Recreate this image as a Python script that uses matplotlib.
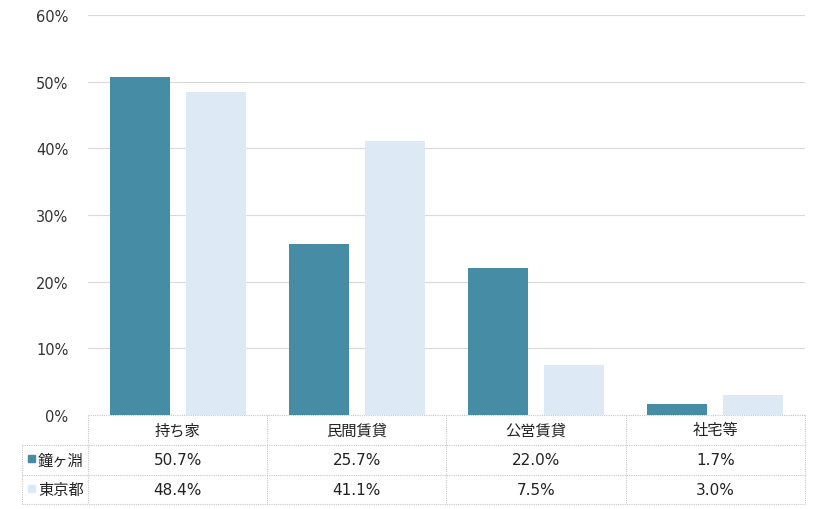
import matplotlib.pyplot as plt
from matplotlib.patches import Rectangle

plt.rcParams['font.family'] = ['DejaVu Sans', 'Noto Sans CJK JP']

categories = ['持ち家', '民間賃貸', '公営賃貸', '社宅等']
series_names = ['鐘ヶ淵', '東京都']
kanegafuchi = [50.7, 25.7, 22.0, 1.7]
tokyo = [48.4, 41.1, 7.5, 3.0]
colors = ['#468CA4', '#DDE9F5']

W, H = 820, 510
fig = plt.figure(figsize=(W / 100, H / 100), dpi=100)

# plot area in pixels
left, right, top, bottom = 88, 805, 16, 416
ax = fig.add_axes([left / W, 1 - bottom / H, (right - left) / W, (bottom - top) / H])

x = range(len(categories))
bw = 0.335
off = 0.212
ax.bar([i - off for i in x], kanegafuchi, width=bw, color=colors[0], zorder=3)
ax.bar([i + off for i in x], tokyo, width=bw, color=colors[1], zorder=3)

ax.set_xlim(-0.5, len(categories) - 0.5)
ax.set_ylim(0, 60)
ax.set_yticks(range(0, 61, 10))
ax.set_yticklabels([f'{v}%' for v in range(0, 61, 10)], fontsize=10.5, color='#333333')
ax.set_xticks([])
ax.grid(axis='y', color='#D9D9D9', linewidth=0.8, zorder=0)
for s in ax.spines.values():
    s.set_visible(False)
ax.tick_params(axis='y', length=0, pad=14)

# data table underneath, in pixel coords
tab = fig.add_axes([0, 0, 1, 1], zorder=-1)
tab.set_xlim(0, W)
tab.set_ylim(H, 0)
tab.axis('off')

row_y = [416, 446, 476, 505]
col_x = [left + (right - left) * i / 4 for i in range(5)]
lab_x = 22
line_kw = dict(color='#C8C8C8', linewidth=0.8, linestyle=(0, (1, 1)))

# horizontal lines
tab.plot([left, right], [row_y[0]] * 2, **line_kw)
for yy in row_y[1:]:
    tab.plot([lab_x, right], [yy] * 2, **line_kw)
# vertical lines
for xx in col_x:
    tab.plot([xx, xx], [row_y[0], row_y[3]], **line_kw)
tab.plot([lab_x, lab_x], [row_y[1], row_y[3]], **line_kw)

fs = 11
for i, cat in enumerate(categories):
    cx = (col_x[i] + col_x[i + 1]) / 2
    tab.text(cx, (row_y[0] + row_y[1]) / 2, cat, ha='center', va='center', fontsize=fs, color='#222222')
    tab.text(cx, (row_y[1] + row_y[2]) / 2, f'{kanegafuchi[i]:.1f}%', ha='center', va='center', fontsize=fs, color='#222222')
    tab.text(cx, (row_y[2] + row_y[3]) / 2, f'{tokyo[i]:.1f}%', ha='center', va='center', fontsize=fs, color='#222222')

for j, name in enumerate(series_names):
    cy = (row_y[j + 1] + row_y[j + 2]) / 2
    tab.add_patch(Rectangle((28, cy - 5), 7, 7, color=colors[j]))
    tab.text(38, cy, name, ha='left', va='center', fontsize=fs, color='#222222')

fig.savefig('out.png', dpi=100)
